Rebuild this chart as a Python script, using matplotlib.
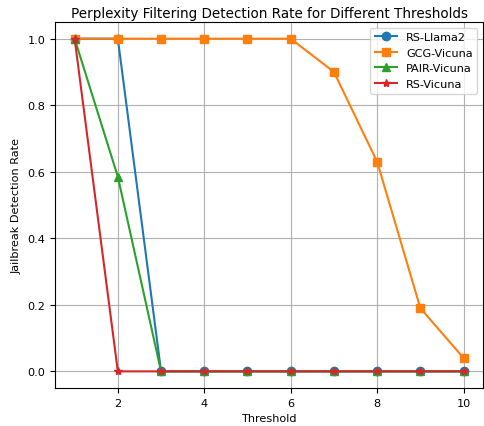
import matplotlib.pyplot as plt

thresholds = [1, 2, 3, 4, 5, 6, 7, 8, 9, 10]
rs_llama2 = [1.0, 1.0, 0, 0, 0, 0, 0, 0, 0, 0]
gcg_vicuna = [1.0, 1.0, 1.0, 1.0, 1.0, 1.0, 0.9, 0.63, 0.19, 0.04]
pair_vicuna = [1.0, 0.585, 0, 0, 0, 0, 0, 0, 0, 0]
rs_vicuna = [1.0, 0, 0, 0, 0, 0, 0, 0, 0, 0]

plt.rcParams["font.size"] = 8.1

fig = plt.figure(figsize=(4.84, 4.27), dpi=100)
ax = fig.add_axes([0.114, 0.089, 0.884, 0.857])

ax.plot(thresholds, rs_llama2, marker="o", label="RS-Llama2")
ax.plot(thresholds, gcg_vicuna, marker="s", label="GCG-Vicuna")
ax.plot(thresholds, pair_vicuna, marker="^", label="PAIR-Vicuna")
ax.plot(thresholds, rs_vicuna, marker="*", label="RS-Vicuna")

ax.set_title("Perplexity Filtering Detection Rate for Different Thresholds", pad=4)
ax.set_xlabel("Threshold")
ax.set_ylabel("Jailbreak Detection Rate")
ax.grid(True)
ax.legend(loc="upper right")

fig.savefig("out.png", dpi=100)
